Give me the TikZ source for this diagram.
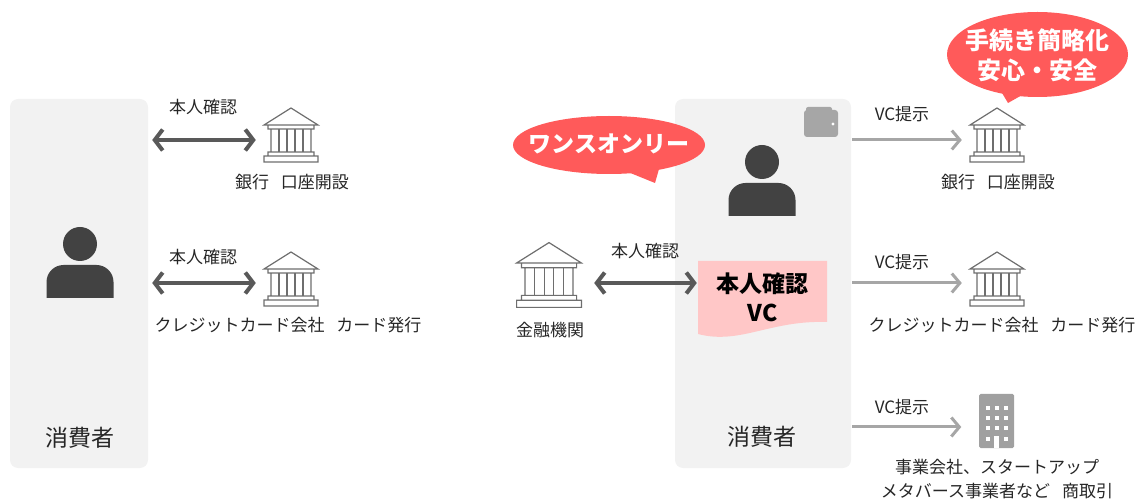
\documentclass[tikz,border=0pt]{standalone}
\usepackage{fontspec}
\setmainfont{Noto Sans CJK JP}
\usetikzlibrary{arrows.meta,positioning}
\definecolor{panelgray}{HTML}{F2F2F2}
\definecolor{icongray}{HTML}{6E6E6E}
\definecolor{darkarrow}{HTML}{595959}
\definecolor{lightarrow}{HTML}{A6A6A6}
\definecolor{bldggray}{HTML}{A0A0A0}
\definecolor{bubblered}{HTML}{FF5A5A}
\definecolor{vcpink}{HTML}{FFC7C7}
\definecolor{persongray}{HTML}{424242}
\tikzset{
  panel/.style={fill=panelgray, rounded corners=8pt, minimum width=138pt, minimum height=369pt, inner sep=0pt},
  lbl/.style={font=\fontsize{17}{24}\selectfont, text=black!85, inner sep=0pt},
  biglbl/.style={font=\fontsize{23}{26}\selectfont, text=black!85, inner sep=0pt},
  spot/.style={minimum width=70pt, minimum height=56pt, inner sep=0pt},
  bubble/.style={text=white, inner sep=0pt, align=center, font=\bfseries\fontsize{23}{30}\selectfont},
  dblarrow/.style={draw=darkarrow, line width=4pt, {Straight Barb[length=8pt,width=21pt]}-{Straight Barb[length=8pt,width=21pt]}},
  vcarrow/.style={draw=lightarrow, line width=3pt, -{Straight Barb[length=8pt,width=19pt]}},
  bankicon/.pic={
    \draw[icongray, line width=1.2pt, fill=white]
      (-27,-10) -- (0,-27) -- (27,-10) -- cycle
      (-23,-10) rectangle (23,-6)
      (-20,-6) rectangle (20,17)
      (-23,17) rectangle (23,21)
      (-27,21) rectangle (27,27);
    \foreach \cx in {-12,-4,4,12} \draw[icongray, line width=1.2pt] (\cx,-6) -- (\cx,17);
  },
  bldgicon/.pic={
    \fill[bldggray, rounded corners=1.5pt] (-17.5,-27) rectangle (17.5,27);
    \foreach \wy in {-13,-3,7} \foreach \wx in {-9,0,9} \fill[white] (\wx-2,\wy-2) rectangle (\wx+2,\wy+2);
    \fill[white] (-11,16) rectangle (-7,20); \fill[white] (7,16) rectangle (11,20);
    \fill[white] (-2.5,15) rectangle (2.5,27);
  },
  person/.pic={
    \fill[persongray] (0,-21) circle (17);
    \fill[persongray] (-33.5,33) [rounded corners=17pt] -- (-33.5,0) -- (33.5,0) [sharp corners] -- (33.5,33) -- cycle;
  },
}
\begin{document}
\begin{tikzpicture}[x=1pt, y=-1pt]
  \useasboundingbox (0,0) rectangle (1138,502);
  % left: without VC
  \node[panel] (consL) at (79,283.5) {};
  \pic at (80,265) {person};
  \node[biglbl] (consLt) at (80,438) {消費者};
  \pic at (291,135) {bankicon};
  \node[spot] (bankA) at (291,140) {};
  \node[lbl] (idA) at (203,107) {本人確認};
  \node[lbl] (bankAt) at (292,182) {銀行\hspace{12pt}口座開設};
  \pic at (291,279) {bankicon};
  \node[spot] (cardA) at (291,283) {};
  \node[lbl] (idB) at (203,257) {本人確認};
  \node[lbl] (cardAt) at (288,325) {クレジットカード会社\hspace{12pt}カード発行};
  \draw[dblarrow, shorten <=4pt] (consL.east |- bankA) -- (bankA.west);
  \draw[dblarrow, shorten <=4pt] (consL.east |- cardA) -- (cardA.west);
  % right: with VC
  \node[panel, minimum width=176pt] (consR) at (763,283.5) {};
  \fill[lightarrow, rounded corners=2pt] (806,107) rectangle (832,114);
  \fill[lightarrow, rounded corners=3pt] (804,110) rectangle (838,137);
  \fill[white] (833,124) circle (1.6);
  \pic at (762,183) {person};
  \node[biglbl] (consRt) at (762,437) {消費者};
  \fill[vcpink] (698,261) -- (827,261) -- (827,322) .. controls (770,320) and (740,345) .. (698,334) -- cycle;
  \node[font=\bfseries\fontsize{23}{29}\selectfont, align=center, minimum width=129pt, inner sep=0pt] (vc) at (762.5,297) {本人確認\\VC};
  \pic[scale=1.2] at (549,275) {bankicon};
  \node[spot, minimum width=90pt] (fin) at (549,283) {};
  \node[lbl] (fint) at (550,330) {金融機関};
  \node[lbl] (idC) at (645,251) {本人確認};
  \draw[dblarrow, shorten >=1pt] (fin.east) -- (vc.west |- fin);
  \pic at (997,135) {bankicon};
  \node[spot] (bankB) at (997,140) {};
  \node[lbl] (bankBt) at (998,182) {銀行\hspace{12pt}口座開設};
  \pic at (997,279) {bankicon};
  \node[spot] (cardB) at (997,283) {};
  \node[lbl] (cardBt) at (1002,325) {クレジットカード会社\hspace{12pt}カード発行};
  \pic at (996.5,421) {bldgicon};
  \node[spot] (firm) at (996.5,427) {};
  \node[lbl, align=center] (firmt) at (997,479) {事業会社、スタートアップ\\メタバース事業者など\hspace{12pt}商取引};
  \foreach \dst/\ty in {bankB/114, cardB/262, firm/407} {
    \draw[vcarrow, shorten <=1pt] (consR.east |- \dst) -- (\dst.west);
    \node[lbl] at (902,\ty) {VC提示};
  }
  % speech bubbles
  \fill[bubblered] (618,168) -- (655,183) -- (661,162) -- cycle;
  \fill[bubblered] (609,145) ellipse [x radius=96, y radius=29];
  \node[bubble] (once) at (609,144) {ワンスオンリー};
  \fill[bubblered] (999,88) -- (1008,103) -- (1031,90) -- cycle;
  \fill[bubblered] (1037.5,54.5) ellipse [x radius=90.5, y radius=42.5];
  \node[bubble, font=\bfseries\fontsize{24}{30}\selectfont] (easy) at (1037.5,55) {手続き簡略化\\安心・安全};
\end{tikzpicture}
\end{document}
